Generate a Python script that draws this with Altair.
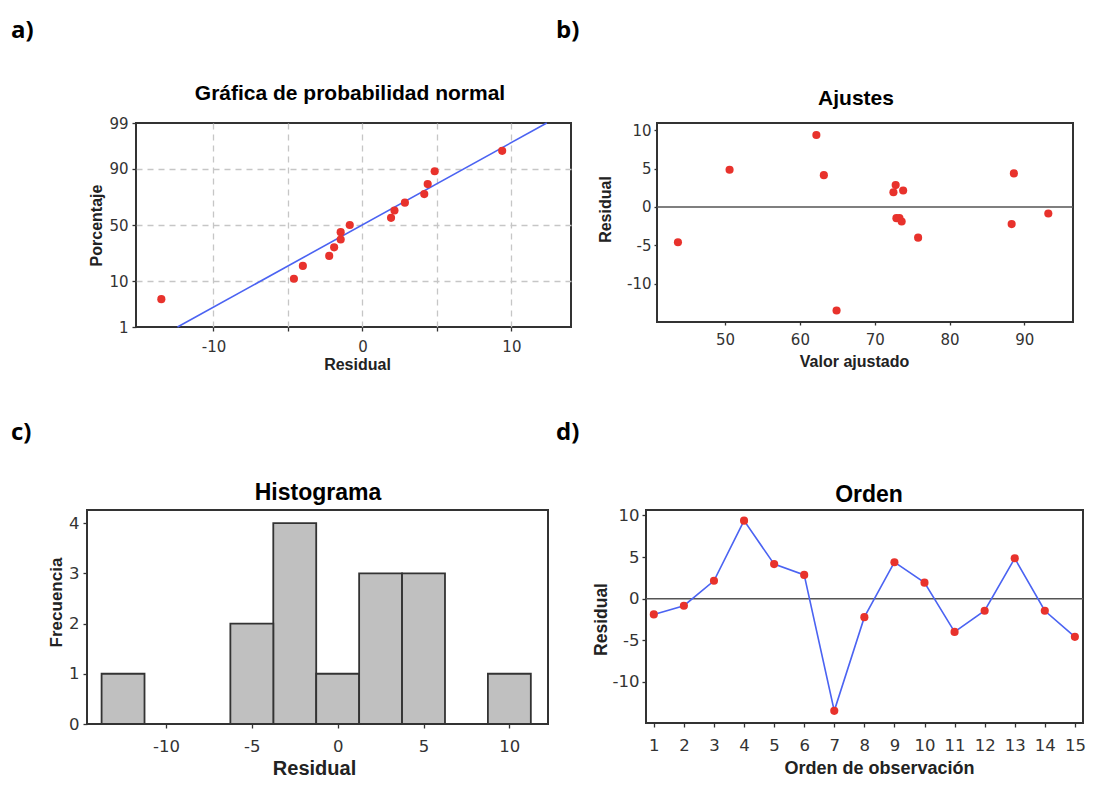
import altair as alt
import pandas as pd
from statistics import NormalDist

# ---------------- data ----------------
obs = list(range(1, 16))
residual = [-1.9, -0.85, 2.15, 9.38, 4.15, 2.85, -13.5, -2.23, 4.38, 1.92, -4.0, -1.46, 4.85, -1.46, -4.6]
fitted = [73.6, 93.2, 73.8, 62.2, 63.2, 72.8, 64.9, 88.3, 88.6, 72.5, 75.8, 72.9, 50.6, 73.3, 43.7]

prob_ticks = [1, 10, 50, 90, 99]
res_ticks_a = [-10, -5, 0, 5, 10]
fit_ticks = [50, 60, 70, 80, 90]
res_ticks = [-10, -5, 0, 5, 10]
freq_ticks = [0, 1, 2, 3, 4]
hist_ticks = [-10, -5, 0, 5, 10]
bin_extent = [-13.75, 11.25]
bin_step = 2.5

panel_labels = ["a)", "b)", "c)", "d)"]
panel_titles = ["Gráfica de probabilidad normal", "Ajustes", "Histograma", "Orden"]

df = pd.DataFrame({"obs": obs, "residual": residual, "fitted": fitted})
zero_df = pd.DataFrame({"z": [0]})

RED = "#e8322c"
BLUE = "#4b63f2"
FRAME = "#333333"
TICKF = "DejaVu Sans"
TITLEF = "Liberation Sans"
PT = 66

nd = NormalDist()
zt = [nd.inv_cdf(p / 100) for p in prob_ticks]


def text_layer(txt, x, y, size, font=TITLEF, align="center", baseline="middle", color="#000"):
    return alt.Chart(pd.DataFrame({"t": [txt]})).mark_text(
        align=align, baseline=baseline, font=font, fontSize=size,
        fontWeight="bold", color=color
    ).encode(x=alt.value(x), y=alt.value(y), text="t:N")


def label_layer(txt, x, y):
    return text_layer(txt, x, y, 24, font="Open Sans", align="left", baseline="alphabetic")


def invisible_rect(x, y):
    return alt.Chart(pd.DataFrame({"k": [0]})).mark_rect(opacity=0).encode(
        x=alt.value(x), x2=alt.value(x + 1), y=alt.value(y), y2=alt.value(y + 1)
    )


def spacer(w):
    return invisible_rect(0, 0).properties(
        width=w, height=1, view=alt.ViewBackground(strokeOpacity=0, fillOpacity=0)
    )


def frame():
    return alt.ViewBackground(stroke=FRAME, strokeWidth=2, strokeOpacity=1)


def axis(values, title, tsize, lsize, tick, pad, tx, ty, angle, grid=False,
         label_expr="'' + datum.value", grid_test=None):
    kw = dict(values=values, title=title, titleFontSize=tsize, titleFont=TITLEF,
              titleFontWeight="bold", titleColor="#222", titleX=tx, titleY=ty,
              titleAngle=angle, titleBaseline="middle", titleAlign="center",
              labelFontSize=lsize, labelFont=TICKF, labelColor="#333",
              tickSize=tick, labelPadding=pad, labelExpr=label_expr,
              labelFlush=False, labelOverlap=False, domain=False,
              ticks=True, tickColor=FRAME, tickWidth=1.3)
    if grid:
        kw.update(grid=True, gridDash=[6, 5], gridColor="#c6c6c6", gridWidth=1.3)
        if grid_test:
            kw.update(gridOpacity={"condition": {"test": grid_test, "value": 0}, "value": 1})
    else:
        kw.update(grid=False)
    return alt.Axis(**kw)


# ---------------- panel a: normal probability plot ----------------
WA, HA = 435, 204
xs_a = alt.Scale(domain=[-15.2, 14.0], nice=False, zero=False)
ys_a = alt.Scale(domain=[zt[0], zt[-1]], nice=False, zero=False)
ax_ax = axis(res_ticks_a, "Residual", 16, 15, 4, 8, 221, 37, 0, grid=True,
             label_expr="datum.value % 10 == 0 ? '' + datum.value : ''")
ax_ay = axis(zt, "Porcentaje", 16, 15, 4, 4, -40, 102, 270, grid=True,
             label_expr="'' + round(cumulativeNormal(datum.value) * 100)",
             grid_test=f"abs(datum.value) > {abs(zt[0]) - 0.01}")

line_a = alt.Chart(df).transform_aggregate(
    m="mean(residual)", s="stdev(residual)"
).transform_calculate(
    lo=f"datum.m + datum.s * quantileNormal({prob_ticks[0] / 100})",
    hi=f"datum.m + datum.s * quantileNormal({prob_ticks[-1] / 100})",
).transform_fold(["lo", "hi"], as_=["end", "xv"]).transform_calculate(
    zv=f"datum.end == 'lo' ? quantileNormal({prob_ticks[0] / 100}) : quantileNormal({prob_ticks[-1] / 100})"
).mark_line(color=BLUE, strokeWidth=1.6).encode(
    x=alt.X("xv:Q", scale=xs_a, axis=ax_ax),
    y=alt.Y("zv:Q", scale=ys_a, axis=ax_ay),
)

pts_a = alt.Chart(df).transform_joinaggregate(n="count()").transform_window(
    rk="row_number()", sort=[alt.SortField("residual", order="ascending")]
).transform_calculate(
    z="quantileNormal((datum.rk - 0.3) / (datum.n + 0.4))"
).mark_circle(size=PT, color=RED, opacity=1).encode(
    x=alt.X("residual:Q", scale=xs_a, axis=ax_ax),
    y=alt.Y("z:Q", scale=ys_a, axis=ax_ay),
)

pa = alt.layer(
    line_a, pts_a,
    text_layer(panel_titles[0], 214, -29, 21),
    label_layer(panel_labels[0], -125, -85),
    invisible_rect(-127, -114),      # top-left anchor of the whole figure
    invisible_rect(0, HA + 52),      # bottom anchor of the first row
).properties(width=WA, height=HA, view=frame())

# ---------------- panel b: residual vs fitted ----------------
WB, HB = 416, 199
xs_b = alt.Scale(domain=[40.9, 96.5], nice=False, zero=False)
ys_b = alt.Scale(domain=[-15.0, 10.95], nice=False, zero=False)
ax_bx = axis(fit_ticks, "Valor ajustado", 16, 15, 3, 7, 197, 39, 0)
ax_by = axis(res_ticks, "Residual", 16, 15, 3, 3, -52, 86, 270)

zero_b = alt.Chart(zero_df).mark_rule(color="#555", strokeWidth=1.5).encode(
    y=alt.Y("z:Q", scale=ys_b, axis=ax_by)
)
pts_b = alt.Chart(df).mark_circle(size=PT, color=RED, opacity=1).encode(
    x=alt.X("fitted:Q", scale=xs_b, axis=ax_bx),
    y=alt.Y("residual:Q", scale=ys_b, axis=ax_by),
)
pb = alt.layer(
    zero_b, pts_b,
    text_layer(panel_titles[1], 199, -24, 21),
    label_layer(panel_labels[1], -101, -85),
).properties(width=WB, height=HB, view=frame())

# ---------------- panel c: histogram ----------------
WC, HC = 461, 214
xs_c = alt.Scale(domain=[-14.6, 12.25], nice=False, zero=False)
ys_c = alt.Scale(domain=[0, 4.26], nice=False)
ax_cx = axis(hist_ticks, "Residual", 20, 16.5, 4, 10, 227, 44, 0)
ax_cy = axis(freq_ticks, "Frecuencia", 17, 16.5, 4, 4, -31, 92, 270)

bars_c = alt.Chart(df).transform_bin(
    "bs", "residual", bin=alt.Bin(extent=bin_extent, step=bin_step, nice=False)
).transform_aggregate(cnt="count()", groupby=["bs", "bs_end"]).transform_calculate(
    base="0"
).mark_bar(
    fill="#c0c0c0", stroke="#333333", strokeWidth=1.8
).encode(
    x=alt.X("bs:Q", scale=xs_c, axis=ax_cx),
    x2="bs_end:Q",
    y=alt.Y("cnt:Q", scale=ys_c, axis=ax_cy),
    y2="base:Q",
)
pc = alt.layer(
    bars_c,
    text_layer(panel_titles[2], 231, -17, 23),
    label_layer(panel_labels[2], -76, -70),
    invisible_rect(0, -110),         # top anchor of the second row
).properties(width=WC, height=HC, view=frame())

# ---------------- panel d: residual vs order ----------------
WD, HD = 437, 213
xs_d = alt.Scale(domain=[0.74, 15.27], nice=False, zero=False)
ys_d = alt.Scale(domain=[-14.96, 10.66], nice=False, zero=False)
ax_dx = axis(obs, "Orden de observación", 18, 16.5, 4, 10, 233, 45, 0)
ax_dy = axis(res_ticks, "Residual", 17.5, 16.5, 4, 3, -45, 109, 270)

zero_d = alt.Chart(zero_df).mark_rule(color="#555", strokeWidth=1.5).encode(
    y=alt.Y("z:Q", scale=ys_d, axis=ax_dy)
)
line_d = alt.Chart(df).mark_line(color=BLUE, strokeWidth=1.6).encode(
    x=alt.X("obs:Q", scale=xs_d, axis=ax_dx),
    y=alt.Y("residual:Q", scale=ys_d, axis=ax_dy),
)
pts_d = alt.Chart(df).mark_circle(size=PT, color=RED, opacity=1).encode(
    x=alt.X("obs:Q", scale=xs_d, axis=ax_dx),
    y=alt.Y("residual:Q", scale=ys_d, axis=ax_dy),
)
pdd = alt.layer(
    zero_d, line_d, pts_d,
    text_layer(panel_titles[3], 223, -15, 23),
    label_layer(panel_labels[3], -90, -70),
).properties(width=WD, height=HD, view=frame())

# ---------------- layout ----------------
row1 = alt.hconcat(spacer(39), pa, spacer(66), pb, spacing=10, bounds="flush")
row2 = alt.hconcat(pc, spacer(78), pdd, spacing=10, bounds="flush")

chart = alt.vconcat(row1, row2, spacing=18).properties(padding=0).configure_view(strokeOpacity=0)

chart.save("out.html", embed_options={"renderer": "svg", "actions": False})
